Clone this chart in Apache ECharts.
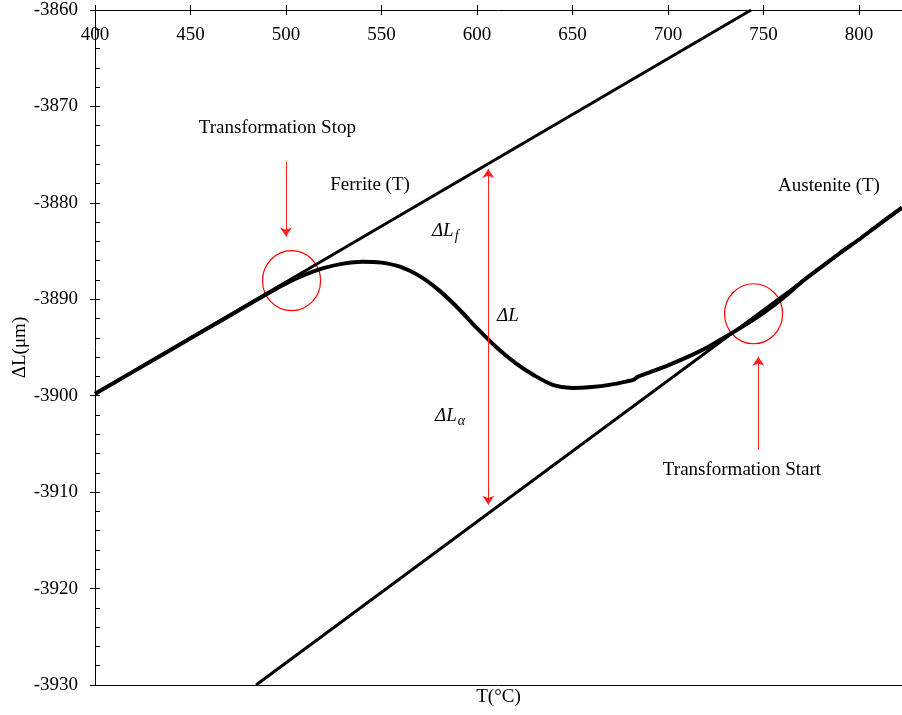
<!DOCTYPE html>
<html>
<head>
<meta charset="utf-8">
<script src="https://cdn.jsdelivr.net/npm/echarts@6/dist/echarts.min.js"></script>
<style>
html,body{margin:0;padding:0;background:#fff;}
#chart{width:902px;height:715px;}
</style>
</head>
<body>
<div id="chart"></div>
<script>
// Axis ranges / ticks
var xMin = 400, xMax = 822.5, xStep = 50;
var yMin = -3930, yMax = -3860, yStep = 10;

// Ferrite (T) reference line
var ferriteT = [400, 743.5];
var ferriteL = [-3899.8, -3860.0];

// Austenite (T) reference line
var austeniteT = [484.3, 822.5];
var austeniteL = [-3930.0, -3880.5];

// Measured dilatation curve
var curveT = [400, 420, 440, 460, 480, 490, 500, 510, 520, 530, 540, 550, 560, 570, 580, 590, 600, 610, 620, 630, 640, 650, 660, 670, 680, 682, 684, 690, 700, 710, 720, 730, 740, 750, 760, 770, 780, 790, 800, 810, 822.5];
var curveL = [-3899.8, -3897.5, -3895.2, -3892.9, -3890.6, -3889.45, -3888.35, -3887.45, -3886.75, -3886.3, -3886.1, -3886.2, -3886.65, -3887.6, -3889.05, -3890.9, -3893.0, -3894.95, -3896.6, -3897.9, -3898.9, -3899.2, -3899.1, -3898.85, -3898.45, -3898.35, -3898.05, -3897.6, -3896.85, -3896.0, -3895.05, -3893.9, -3892.7, -3891.4, -3889.9, -3888.2, -3886.7, -3885.2, -3883.8, -3882.3, -3880.5];

// Red circles (centre T, centre dL)
var circleT = [502.9, 744.8];
var circleL = [-3888.07, -3891.5];

// Arrows: start/end in data coordinates
var arrowStartT = [500.0, 747.3, 605.9];
var arrowStartL = [-3875.7, -3905.6, -3876.5];
var arrowEndT = [500.0, 747.3, 605.9];
var arrowEndL = [-3883.5, -3895.95, -3911.3];
var arrowBoth = [false, false, true];

// Text annotations
var noteText = ['Transformation Stop', 'Ferrite (T)', 'Austenite (T)', '{i|ΔL}{s|f}', '{i|ΔL}', '{i|ΔL}{s|α}', 'Transformation Start'];
var noteT = [495.5, 544.0, 784.3, 576.4, 610.5, 578.0, 738.7];
var noteL = [-3872.24, -3878.15, -3878.25, -3882.9, -3891.7, -3902.1, -3907.7];
var noteAlign = ['center', 'center', 'center', 'left', 'left', 'left', 'center'];

var FONT = '"Liberation Serif", "Times New Roman", serif';

function pairs(a, b) { return a.map(function (v, i) { return [v, b[i]]; }); }

var arrowData = arrowStartT.map(function (t, i) {
  return [
    { coord: [t, arrowStartL[i]], symbol: arrowBoth[i] ? 'arrow' : 'none' },
    { coord: [arrowEndT[i], arrowEndL[i]], symbol: 'arrow' }
  ];
});

var noteData = noteT.map(function (t, i) {
  return {
    value: [t, noteL[i]],
    label: { formatter: noteText[i], align: noteAlign[i] }
  };
});

var baseX = { type: 'value', min: xMin, max: xMax, interval: xStep, splitLine: { show: false } };
var baseY = { type: 'value', min: yMin, max: yMax, interval: yStep, splitLine: { show: false } };

var chart = echarts.init(document.getElementById('chart'), null, { renderer: 'canvas' });
chart.setOption({
  animation: false,
  backgroundColor: '#fff',
  grid: { left: 95, right: 0, top: 10, bottom: 30, containLabel: false, outerBoundsMode: 'none' },
  xAxis: [
    Object.assign({}, baseX, {
      position: 'top',
      axisLine: { show: true, lineStyle: { color: '#000', width: 1 } },
      axisTick: { show: true, inside: false, length: 5, lineStyle: { color: '#000', width: 1 } },
      axisLabel: { show: true, inside: true, margin: 16, showMaxLabel: false, color: '#000', fontFamily: FONT, fontSize: 19,
        formatter: function (v) { return String(v); } }
    }),
    Object.assign({}, baseX, {
      position: 'top',
      axisLine: { show: false },
      axisTick: { show: true, inside: true, length: 5, lineStyle: { color: '#000', width: 1 } },
      axisLabel: { show: false }
    }),
    Object.assign({}, baseX, {
      position: 'bottom',
      axisLine: { show: true, lineStyle: { color: '#000', width: 1 } },
      axisTick: { show: false },
      axisLabel: { show: false },
      name: 'T(°C)',
      nameLocation: 'middle',
      nameGap: 3,
      nameTextStyle: { color: '#000', fontFamily: FONT, fontSize: 19 }
    })
  ],
  yAxis: [
    Object.assign({}, baseY, {
      position: 'left',
      axisLine: { show: true, lineStyle: { color: '#000', width: 1 } },
      axisTick: { show: true, inside: false, length: 5, lineStyle: { color: '#000', width: 1 } },
      axisLabel: { show: true, margin: 17, color: '#000', fontFamily: FONT, fontSize: 19,
        formatter: function (v) { return String(v); } },
      name: 'ΔL(μm)',
      nameLocation: 'middle',
      nameGap: 65,
      nameMoveOverlap: false,
      nameTextStyle: { color: '#000', fontFamily: FONT, fontSize: 19 }
    }),
    Object.assign({}, baseY, {
      position: 'left',
      axisLine: { show: false },
      axisTick: { show: true, inside: true, length: 5, lineStyle: { color: '#000', width: 1 } },
      minorTick: { show: true, splitNumber: 5, length: 5, lineStyle: { color: '#000', width: 1 } },
      axisLabel: { show: false }
    })
  ],
  series: [
    {
      type: 'line', name: 'Ferrite', data: pairs(ferriteT, ferriteL),
      showSymbol: false, symbol: 'none', lineStyle: { color: '#000', width: 3 }, silent: true
    },
    {
      type: 'line', name: 'Austenite', data: pairs(austeniteT, austeniteL),
      showSymbol: false, symbol: 'none', lineStyle: { color: '#000', width: 3 }, silent: true
    },
    {
      type: 'line', name: 'Measured', data: pairs(curveT, curveL), smooth: 0.3,
      showSymbol: false, symbol: 'none', lineStyle: { color: '#000', width: 4 }, silent: true,
      markLine: {
        silent: true, animation: false,
        symbolSize: 9,
        lineStyle: { color: '#ff2020', width: 1, type: 'solid', opacity: 1 },
        itemStyle: { color: '#ff0000', opacity: 1 },
        label: { show: false },
        emphasis: { disabled: true },
        data: arrowData
      }
    },
    {
      type: 'scatter', name: 'Circles', data: pairs(circleT, circleL),
      symbol: 'circle', symbolSize: [58, 60], silent: true,
      itemStyle: { color: 'rgba(0,0,0,0)', borderColor: '#ff0000', borderWidth: 1.2, opacity: 1 }
    },
    {
      type: 'scatter', name: 'Notes', data: noteData, symbolSize: 0, silent: true,
      itemStyle: { color: '#000', opacity: 1 },
      label: {
        show: true, position: 'inside', verticalAlign: 'middle', color: '#000', opacity: 1,
        textBorderWidth: 0, textBorderColor: 'transparent',
        fontFamily: FONT, fontSize: 19,
        rich: {
          i: { fontFamily: FONT, fontStyle: 'italic', fontSize: 19, color: '#000', textBorderWidth: 0 },
          s: { fontFamily: FONT, fontStyle: 'italic', fontSize: 14, color: '#000', textBorderWidth: 0, padding: [10, 0, 0, 1] }
        }
      }
    }
  ]
});
</script>
</body>
</html>
